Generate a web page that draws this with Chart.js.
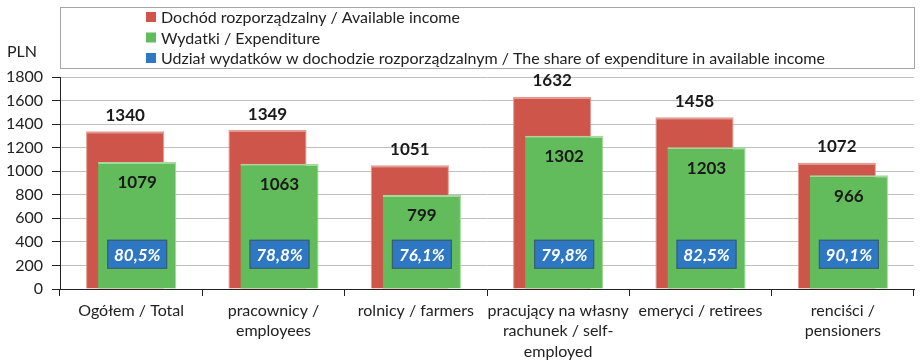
<!DOCTYPE html>
<html>
<head>
<meta charset="utf-8">
<script src="https://cdn.jsdelivr.net/npm/chart.js@4"></script>
<style>
  html, body { margin: 0; padding: 0; background: #fff; }
  #wrap { width: 922px; height: 361px; }
</style>
</head>
<body>
<div id="wrap"><canvas id="c"></canvas></div>
<script>
var categories = [
    "Ogółem / Total",
    ["pracownicy /", "employees"],
    "rolnicy / farmers",
    ["pracujący na własny", "rachunek / self-", "employed"],
    "emeryci / retirees",
    ["renciści /", "pensioners"]
];
var income = [1340, 1349, 1051, 1632, 1458, 1072];
var expenditure = [1079, 1063, 799, 1302, 1203, 966];
var shares = ["80,5%", "78,8%", "76,1%", "79,8%", "82,5%", "90,1%"];
var shareLevel = 295; // value on the PLN axis where the share boxes sit

var seriesNames = [
    "Dochód rozporządzalny / Available income",
    "Wydatki / Expenditure",
    "Udział wydatków w dochodzie rozporządzalnym / The share of expenditure in available income"
];
var colors = ["#CD5549", "#62BC5B", "#2E77C2"];

var FONT = "Lato, 'Open Sans', sans-serif";

// legend box, value labels and share boxes
var extras = {
    id: 'extras',
    afterDatasetsDraw: function(chart) {
        var ctx = chart.ctx;
        var area = chart.chartArea;
        var y = chart.scales.y;
        ctx.save();

        // value labels
        ctx.font = "bold 17px " + FONT;
        ctx.fillStyle = "#1a1a1a";
        ctx.textAlign = "center";
        ctx.textBaseline = "middle";
        chart.getDatasetMeta(0).data.forEach(function(bar, i) {
            ctx.fillText(income[i], bar.x, bar.y - 16);
        });
        chart.getDatasetMeta(1).data.forEach(function(bar, i) {
            ctx.fillText(expenditure[i], bar.x, bar.y + 21);
        });

        // share boxes
        var yc = y.getPixelForValue(shareLevel);
        chart.getDatasetMeta(1).data.forEach(function(bar, i) {
            ctx.fillStyle = colors[2];
            ctx.fillRect(bar.x - 30, yc - 14.5, 60, 29);
            ctx.strokeStyle = "#3b5a62";
            ctx.lineWidth = 1;
            ctx.strokeRect(bar.x - 30 + 0.5, yc - 14.5 + 0.5, 59, 28);
            ctx.fillStyle = "#fff";
            ctx.font = "italic bold 17px " + FONT;
            ctx.fillText(shares[i], bar.x, yc + 1);
        });

        // unit
        ctx.fillStyle = "#222";
        ctx.font = "16px " + FONT;
        ctx.fillText("PLN", 22, 52);

        // legend
        ctx.strokeStyle = "#a6a6a6";
        ctx.lineWidth = 1;
        ctx.strokeRect(area.left + 0.5, 7.5, area.right - area.left, 61);
        ctx.textAlign = "left";
        ctx.font = "16px " + FONT;
        seriesNames.forEach(function(name, i) {
            var ly = 17 + i * 20.5;
            ctx.fillStyle = colors[i];
            ctx.fillRect(146, ly - 5, 10, 10);
            ctx.fillStyle = "#222";
            ctx.fillText(name, 161, ly + 1);
        });
        ctx.restore();
    }
};

new Chart(document.getElementById('c'), {
    type: 'bar',
    data: {
        labels: categories,
        datasets: [
            {
                label: seriesNames[0],
                data: income,
                backgroundColor: colors[0],
                borderColor: "#E49A90",
                borderWidth: {top: 2, right: 1, left: 1, bottom: 0},
                stack: 'a',
                order: 1
            },
            {
                label: seriesNames[1],
                data: expenditure,
                backgroundColor: colors[1],
                borderColor: "#A3DA9C",
                borderWidth: {top: 2, right: 1, left: 0, bottom: 0},
                stack: 'b',
                order: 0
            },
            {
                label: seriesNames[2],
                data: income.map(function() { return null; }),
                backgroundColor: colors[2],
                stack: 'a',
                order: -1
            }
        ]
    },
    options: {
        responsive: true,
        maintainAspectRatio: false,
        animation: false,
        categoryPercentage: 0.169,
        barPercentage: 6.5,
        layout: {padding: {top: 77, left: 0, right: 8, bottom: 0}},
        plugins: {
            legend: {display: false},
            tooltip: {enabled: false}
        },
        scales: {
            x: {
                offset: true,
                grid: {offset: true, drawOnChartArea: false, tickLength: 7, color: "#222"},
                border: {color: "#222", width: 1},
                ticks: {color: "#222", font: {family: FONT, size: 16, lineHeight: 1.3}, padding: 4, maxRotation: 0, autoSkip: false},
                afterFit: function(s) { s.height = 72; }
            },
            y: {
                stacked: false,
                min: 0,
                max: 1800,
                ticks: {
                    stepSize: 200, color: "#222", font: {family: FONT, size: 16}, padding: 9,
                    callback: function(v) { return String(v); }
                },
                grid: {color: "#bfbfbf", tickColor: "#222", tickLength: 8},
                border: {color: "#222", width: 1},
                afterFit: function(s) { s.width = 60; }
            }
        }
    },
    plugins: [extras]
});
</script>
</body>
</html>
